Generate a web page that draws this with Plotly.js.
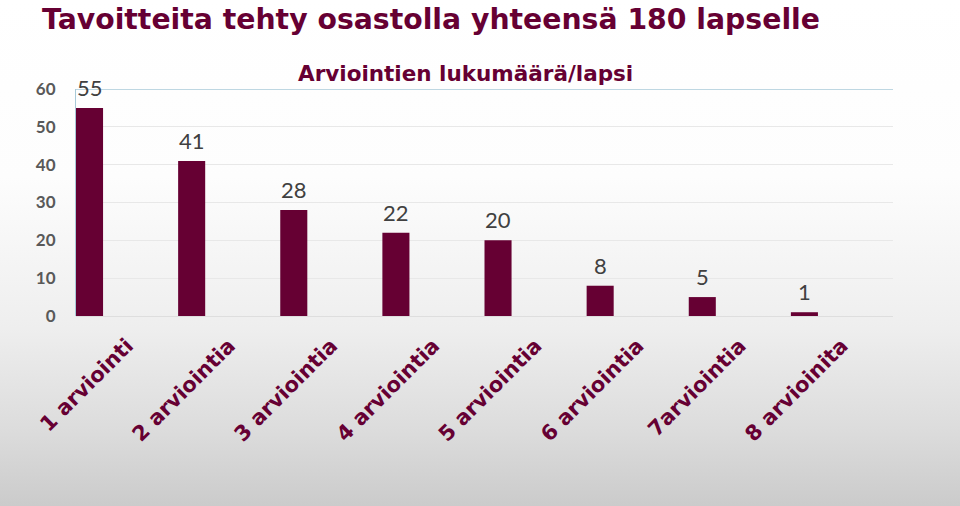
<!DOCTYPE html>
<html>
<head>
<meta charset="utf-8">
<script src="https://cdn.plot.ly/plotly-3.0.1.min.js"></script>
<style>
  html, body { margin:0; padding:0; width:960px; height:506px; overflow:hidden;
    background: linear-gradient(to bottom, #ffffff 0%, #fdfdfd 35%, #eeeeee 65%, #dcdcdc 85%, #cbcbcb 100%); }
  #chart { width:960px; height:506px; }
</style>
</head>
<body>
<div id="chart"></div>
<script>
const categories = ["1 arviointi", "2 arviointia", "3 arviointia", "4 arviointia", "5 arviointia", "6 arviointia", "7arviointia", "8 arvioinita"];
const counts = [55, 41, 28, 22, 20, 8, 5, 1];
const yTicks = [0, 10, 20, 30, 40, 50, 60];
const mainTitle = "Tavoitteita tehty osastolla yhteensä 180 lapselle";
const subTitle = "Arviointien lukumäärä/lapsi";

const maroon = "#660033";
const barOffset = -0.5;
const barWidth = 0.265;

const trace = {
  type: "bar",
  x: categories,
  y: counts,
  offset: barOffset,
  width: barWidth,
  marker: { color: maroon },
  hoverinfo: "skip"
};

const valueLabels = counts.map((v, i) => ({
  x: i + barOffset + barWidth / 2,
  y: v,
  xref: "x", yref: "y",
  text: String(v),
  showarrow: false,
  xanchor: "center", yanchor: "bottom", yshift: 5,
  font: { family: "Lato, 'Open Sans', sans-serif", size: 22, color: "#404040" }
}));

const layout = {
  width: 960, height: 506,
  paper_bgcolor: "rgba(0,0,0,0)",
  plot_bgcolor: "rgba(0,0,0,0)",
  margin: { l: 76, r: 67, t: 89, b: 190 },
  showlegend: false,
  title: {
    text: "<b>" + mainTitle + "</b>",
    font: { family: "'DejaVu Sans', Verdana, sans-serif", size: 28.3, color: maroon },
    x: 42 / 960, xanchor: "left", xref: "container",
    y: 1 - 19 / 506, yanchor: "middle", yref: "container"
  },
  xaxis: {
    type: "category",
    range: [-0.5, 7.5],
    tickangle: -45,
    tickvals: categories,
    ticktext: categories.map(c => "<b>" + c + "</b>"),
    ticks: "outside", ticklen: 8, tickcolor: "rgba(0,0,0,0)",
    tickfont: { family: "'DejaVu Sans', Verdana, sans-serif", size: 21, color: maroon },
    showgrid: false, zeroline: false, showline: false
  },
  yaxis: {
    range: [0, 60],
    tickvals: yTicks,
    ticktext: yTicks.map(v => "<b>" + v + "</b>"),
    ticks: "outside", ticklen: 16, tickcolor: "rgba(0,0,0,0)",
    tickfont: { family: "Lato, 'Open Sans', sans-serif", size: 17, color: "#595959" },
    showgrid: true, gridcolor: "#e8e8e8", gridwidth: 1,
    zeroline: true, zerolinecolor: "#dedede", zerolinewidth: 1,
    showline: true, linecolor: "#a8cad8", linewidth: 1
  },
  shapes: [{
    type: "line", xref: "paper", yref: "y", x0: 0, x1: 1, y0: 60, y1: 60,
    line: { color: "#a8cad8", width: 1.5 }, layer: "above"
  }],
  annotations: [{
    text: "<b>" + subTitle + "</b>",
    xref: "paper", yref: "paper", x: (465 - 76) / 817, y: 1.0, xanchor: "center", yanchor: "bottom", yshift: 1,
    showarrow: false,
    font: { family: "'DejaVu Sans', Verdana, sans-serif", size: 21.5, color: maroon }
  }].concat(valueLabels)
};

Plotly.newPlot("chart", [trace], layout, { displayModeBar: false, staticPlot: true });
</script>
</body>
</html>
